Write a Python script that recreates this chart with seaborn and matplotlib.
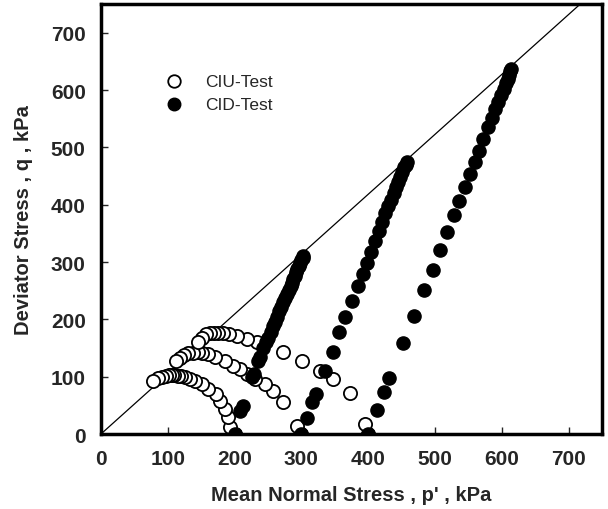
import matplotlib
matplotlib.use("Agg")
import matplotlib.pyplot as plt
import seaborn as sns
import pandas as pd

# ---- data ----
# CIU (undrained) stress paths
ciu200_p = [200, 193, 190, 186, 178, 172, 160, 151, 141, 133, 126, 120, 115, 110, 106, 102, 97, 91, 85, 78]
ciu200_q = [0, 12, 30, 44, 58, 70, 79, 87, 92, 96, 99, 101, 102, 103, 103, 103, 102, 100, 97, 92]
ciu300_p = [300, 293, 273, 258, 245, 230, 218, 208, 198, 186, 171, 160, 152, 145, 138, 131, 125, 119, 113]
ciu300_q = [0, 14, 56, 75, 87, 96, 105, 113, 119, 127, 134, 140, 142, 143, 142, 141, 138, 133, 127]
ciu400_p = [400, 395, 373, 347, 328, 301, 273, 233, 218, 203, 192, 183, 176, 170, 164, 158, 152, 145]
ciu400_q = [0, 17, 72, 96, 110, 127, 143, 160, 166, 171, 174, 176, 177, 177, 176, 174, 168, 160]

# CID (drained) stress paths
cid200_p = [200, 208, 212, 226, 229, 235, 238, 243, 247, 250, 254, 257, 260, 263, 266, 269, 272, 275, 278, 281,
            284, 286, 288, 290, 292, 294, 296, 298, 300, 302, 303]
cid200_q = [0, 40, 49, 99, 105, 127, 135, 150, 160, 168, 178, 188, 196, 205, 214, 222, 230, 238, 245, 252,
            258, 264, 270, 276, 282, 288, 293, 298, 303, 307, 310]
cid300_p = [300, 308, 316, 322, 335, 347, 356, 366, 376, 385, 392, 398, 404, 410, 416, 421, 426, 430, 434, 438,
            442, 445, 448, 451, 454, 456, 458]
cid300_q = [0, 28, 56, 70, 110, 143, 178, 204, 232, 258, 280, 298, 317, 337, 355, 370, 385, 397, 409, 420,
            431, 440, 449, 457, 465, 470, 475]
cid400_p = [400, 413, 424, 431, 452, 469, 483, 497, 507, 518, 528, 536, 545, 552, 560, 566, 572, 579, 585, 590,
            595, 599, 603, 606, 609, 611, 613, 614]
cid400_q = [0, 42, 73, 97, 159, 206, 251, 286, 321, 353, 382, 407, 431, 454, 475, 494, 515, 535, 552, 567,
            580, 592, 602, 612, 620, 627, 633, 637]

# critical state line
csl_p = [0, 750]
csl_q = [0, 784]

ciu = pd.DataFrame({"p": ciu200_p + ciu300_p + ciu400_p, "q": ciu200_q + ciu300_q + ciu400_q})
cid = pd.DataFrame({"p": cid200_p + cid300_p + cid400_p, "q": cid200_q + cid300_q + cid400_q})

sns.set_style("white")
plt.rcParams["font.family"] = ["Liberation Sans", "DejaVu Sans"]

fig = plt.figure(figsize=(6.08, 5.10), dpi=100)
ax = fig.add_axes([0.166, 0.147, 0.824, 0.843])

ax.plot(csl_p, csl_q, color="black", linewidth=0.9, zorder=1)
sns.scatterplot(data=ciu, x="p", y="q", ax=ax, s=90, facecolor="white", edgecolor="black",
                linewidth=1.3, label="CIU-Test", zorder=2)
sns.scatterplot(data=cid, x="p", y="q", ax=ax, s=90, color="black", edgecolor="black",
                linewidth=1.0, label="CID-Test", zorder=3)

ax.set_xlim(0, 750)
ax.set_ylim(0, 750)
ax.set_xticks(range(0, 701, 100))
ax.set_yticks(range(0, 701, 100))
for lab in ax.get_xticklabels() + ax.get_yticklabels():
    lab.set_fontweight("bold")
ax.tick_params(axis="both", direction="in", length=5, width=1, labelsize=15,
               bottom=True, left=True, top=False, right=False, pad=11)
for sp in ax.spines.values():
    sp.set_visible(True)
    sp.set_linewidth(2.5)
    sp.set_color("black")

ax.set_xlabel("Mean Normal Stress , p' , kPa", fontsize=14.5, fontweight="bold", labelpad=12)
ax.set_ylabel("Deviator Stress , q , kPa", fontsize=14.5, fontweight="bold", labelpad=13)

leg = ax.legend(loc="upper left", bbox_to_anchor=(0.08, 0.875), frameon=False, fontsize=12.5,
                handletextpad=0.8, labelspacing=0.45, markerscale=0.95)

fig.savefig("out.png", dpi=100)
